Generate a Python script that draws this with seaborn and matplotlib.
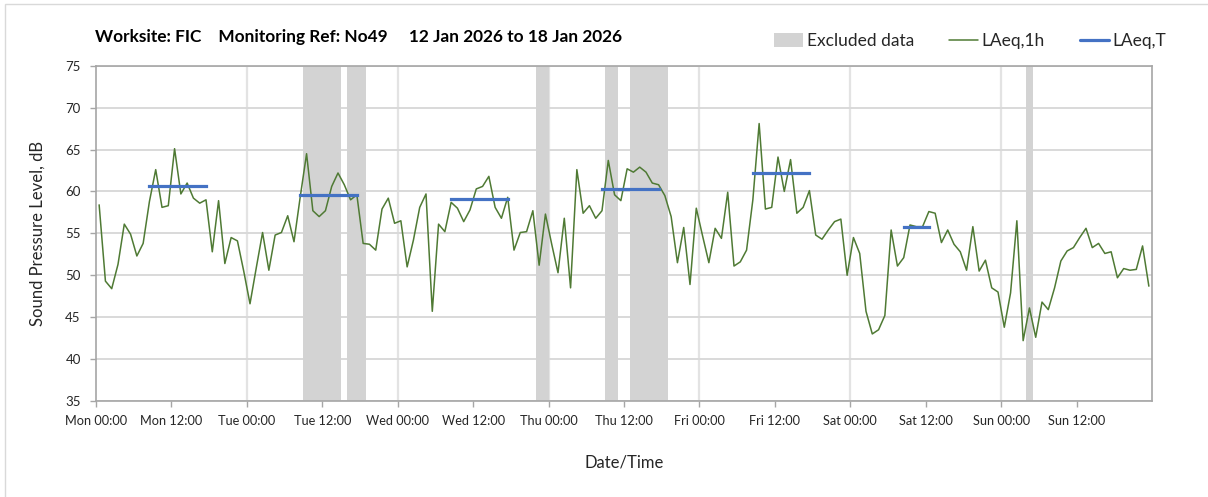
import numpy as np
import pandas as pd
import seaborn as sns
import matplotlib.pyplot as plt
import matplotlib.dates as mdates
from matplotlib.patches import Patch, Rectangle
from matplotlib.lines import Line2D

# Hourly LAeq,1h values (dB), Mon 12 Jan 2026 00:00 onward
laeq_1h = [
    58.4, 49.3, 48.4, 51.3, 56.1, 54.9, 52.3, 53.8, 58.8, 62.6, 58.1, 58.3,
    65.1, 59.7, 61.0, 59.2, 58.6, 59.0, 52.8, 58.9, 51.4, 54.5, 54.1, 50.5,
    46.6, 50.9, 55.1, 50.6, 54.8, 55.1, 57.1, 54.0, 59.4, 64.5, 57.7, 57.0,
    57.7, 60.6, 62.2, 60.8, 59.0, 59.6, 53.8, 53.7, 53.0, 57.9, 59.2, 56.2,
    56.5, 51.0, 54.2, 58.1, 59.7, 45.7, 56.1, 55.2, 58.7, 58.0, 56.4, 57.8,
    60.3, 60.6, 61.8, 58.1, 56.8, 59.3, 53.0, 55.1, 55.2, 57.7, 51.2, 57.3,
    53.7, 50.3, 56.8, 48.5, 62.6, 57.4, 58.3, 56.8, 57.7, 63.7, 59.6, 58.9,
    62.7, 62.3, 62.9, 62.3, 61.0, 60.8, 59.5, 57.0, 51.5, 55.7, 48.9, 58.0,
    54.7, 51.5, 55.6, 54.4, 59.9, 51.1, 51.6, 53.0, 59.0, 68.1, 57.9, 58.1,
    64.1, 60.0, 63.8, 57.4, 58.1, 60.1, 54.8, 54.3, 55.4, 56.4, 56.7, 50.0,
    54.5, 52.6, 45.7, 43.0, 43.5, 45.2, 55.4, 51.1, 52.1, 56.0, 55.8, 55.8,
    57.6, 57.4, 53.9, 55.4, 53.7, 52.8, 50.6, 55.8, 50.5, 51.8, 48.5, 48.0,
    43.8, 47.9, 56.5, 42.2, 46.1, 42.6, 46.8, 45.9, 48.5, 51.7, 52.9, 53.3,
    54.5, 55.6, 53.3, 53.8, 52.6, 52.8, 49.7, 50.8, 50.6, 50.7, 53.5, 48.7,
]

# Daytime LAeq,T periods
lt_start = ["2026-01-12 08:30", "2026-01-13 08:30", "2026-01-14 08:30",
            "2026-01-15 08:30", "2026-01-16 08:30", "2026-01-17 08:30"]
lt_end = ["2026-01-12 17:30", "2026-01-13 17:30", "2026-01-14 17:30",
          "2026-01-15 17:30", "2026-01-16 17:30", "2026-01-17 12:30"]
laeq_t = [60.6, 59.6, 59.1, 60.3, 62.2, 55.8]

# Periods excluded from assessment
excl_start = ["2026-01-13 09:00", "2026-01-13 16:00", "2026-01-14 22:00",
              "2026-01-15 09:00", "2026-01-15 13:00", "2026-01-18 04:00"]
excl_end = ["2026-01-13 15:00", "2026-01-13 19:00", "2026-01-15 00:00",
            "2026-01-15 11:00", "2026-01-15 19:00", "2026-01-18 05:00"]

title_text = "Worksite: FIC    Monitoring Ref: No49     12 Jan 2026 to 18 Jan 2026"

GREEN = "#4f7a34"
BLUE = "#4472c4"
SHADE = "#d3d3d3"
GRID = "#d9d9d9"
SPINE = "#a6a6a6"
TEXT = "#262626"

sns.set_theme(style="white")
plt.rcParams["font.family"] = ["Lato", "DejaVu Sans"]

hourly = pd.DataFrame({
    "time": pd.date_range("2026-01-12 00:30", periods=len(laeq_1h), freq="h"),
    "LAeq": laeq_1h,
})
periods = pd.DataFrame({
    "time": pd.to_datetime(lt_start + lt_end),
    "LAeq": laeq_t + laeq_t,
    "period": list(range(len(laeq_t))) * 2,
})

fig = plt.figure(figsize=(12.08, 4.97), dpi=100)
fig.patches.append(Rectangle((5 / 1208, -0.2), 1.5, 1.2 - 4 / 497,
                             transform=fig.transFigure, fill=False,
                             edgecolor="#d9d9d9", linewidth=1.0))
ax = fig.add_axes([96 / 1208, 1 - 401 / 497, (1152 - 96) / 1208, (401 - 65.7) / 497])

t0, t1 = pd.Timestamp("2026-01-12 00:00"), pd.Timestamp("2026-01-19 00:00")

# vertical day boundaries
for day in pd.date_range(t0, t1, freq="D")[1:-1]:
    ax.axvline(day, color="#e3e3e3", linewidth=1.6, zorder=0)

for s, e in zip(excl_start, excl_end):
    ax.axvspan(pd.Timestamp(s), pd.Timestamp(e), color=SHADE, linewidth=0, zorder=1)

sns.lineplot(data=hourly, x="time", y="LAeq", ax=ax, color=GREEN,
             linewidth=1.1, zorder=3)
sns.lineplot(data=periods, x="time", y="LAeq", units="period", estimator=None,
             ax=ax, color=BLUE, linewidth=2.3, zorder=4,
             solid_capstyle="projecting")

ax.set_xlim(t0, t1)
ax.set_ylim(35, 75)
ax.set_yticks(range(35, 80, 5))
ax.set_xticks(pd.date_range(t0, "2026-01-18 12:00", freq="12h"))
ax.xaxis.set_major_formatter(mdates.DateFormatter("%a %H:%M"))
ax.yaxis.grid(True, color=GRID, linewidth=1.4, zorder=0)
ax.xaxis.grid(False)
ax.set_axisbelow(True)

for sp in ax.spines.values():
    sp.set_color(SPINE)
    sp.set_linewidth(1.2)

ax.tick_params(axis="x", direction="out", length=4, width=1, color=SPINE,
               pad=6, labelsize=9.2, labelcolor=TEXT, bottom=True)
ax.tick_params(axis="y", direction="out", length=4, width=1, color=SPINE,
               pad=7, labelsize=9.5, labelcolor=TEXT, left=True)

ax.set_xlabel("Date/Time", fontsize=12, color=TEXT, labelpad=20)
ax.set_ylabel("Sound Pressure Level, dB", fontsize=12, color=TEXT, labelpad=14)

fig.text(95 / 1208, 1 - 37 / 497, title_text, fontsize=12.4, fontweight="bold",
         color="#000000", ha="left", va="center")

handles = [
    Patch(facecolor=SHADE, edgecolor="none"),
    Line2D([], [], color=GREEN, linewidth=1.1),
    Line2D([], [], color=BLUE, linewidth=2.3),
]
fig.legend(handles, ["Excluded data", "LAeq,1h", "LAeq,T"], loc="center",
           bbox_to_anchor=(970 / 1208, 1 - 41 / 497), ncol=3, frameon=False,
           fontsize=12.5, handlelength=1.7, handleheight=0.8, handletextpad=0.2,
           columnspacing=2.0, labelcolor=TEXT)

fig.savefig("out.png", dpi=100)
